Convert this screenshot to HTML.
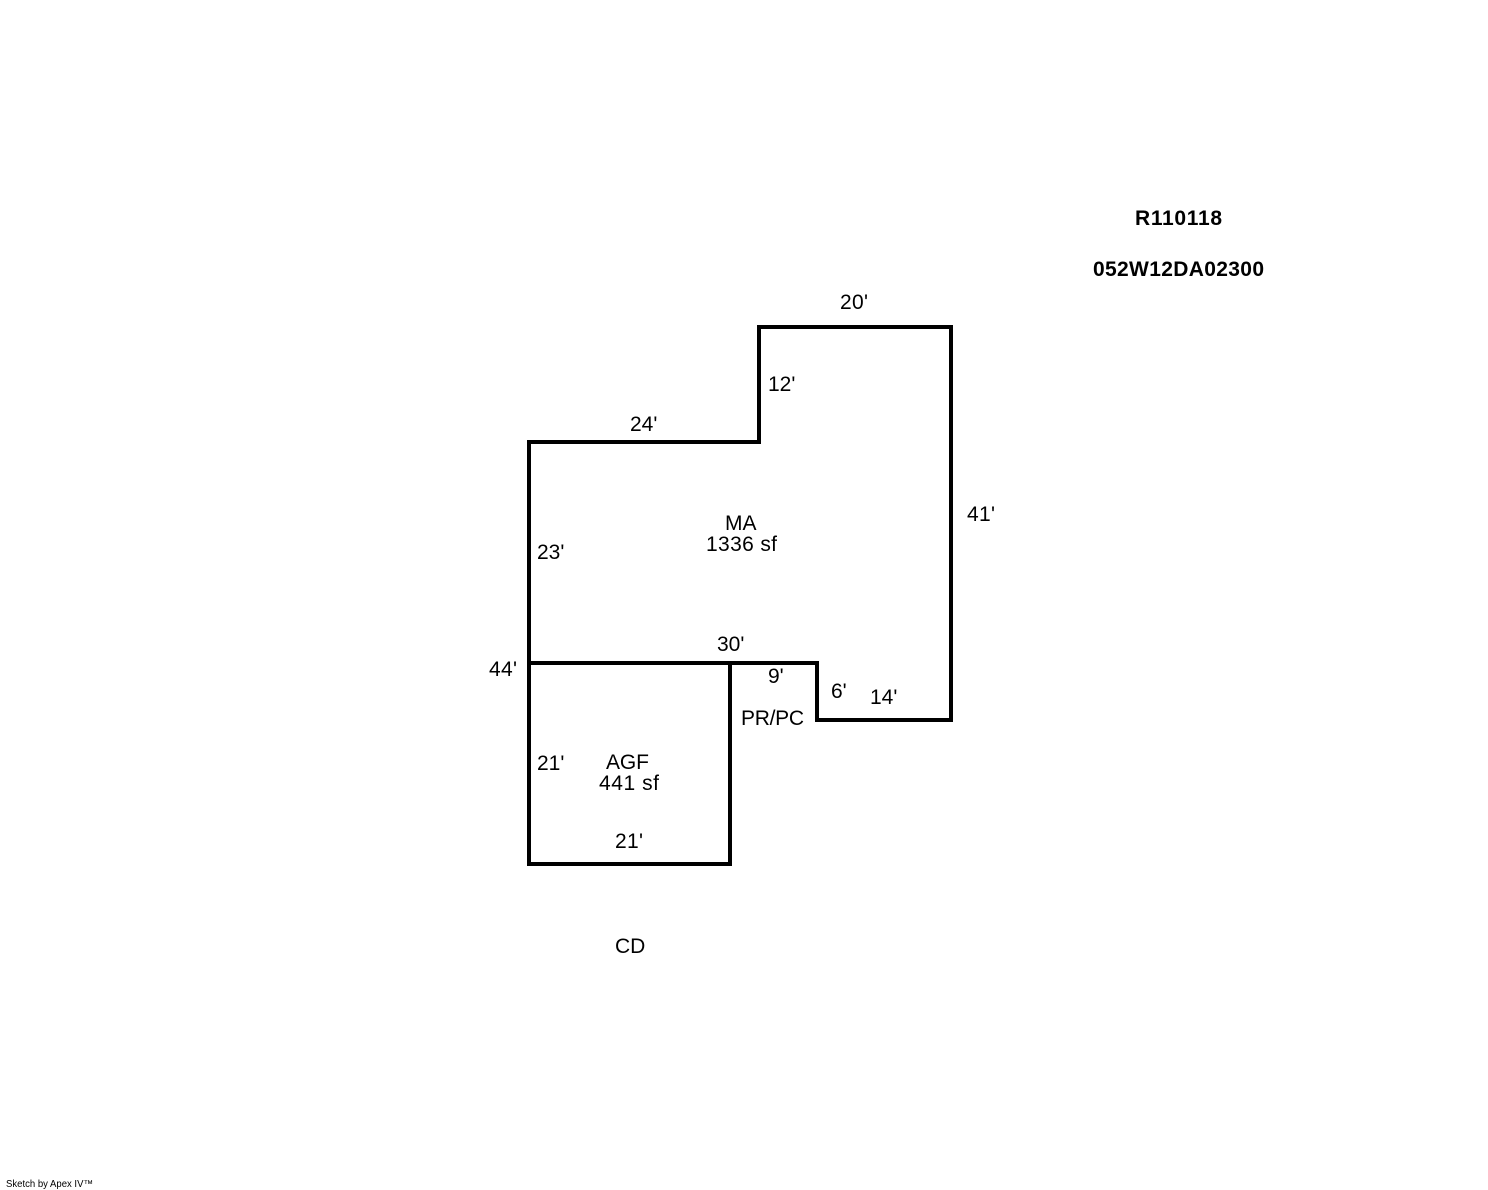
<!DOCTYPE html>
<html>
<head>
<meta charset="utf-8">
<style>
html,body{margin:0;padding:0;background:#fff;}
svg{display:block;}
text{font-family:"Liberation Sans",Arial,sans-serif;font-size:21px;fill:#000;}
.b{font-weight:bold;}
.s{font-size:10px;}
</style>
</head>
<body>
<svg width="1488" height="1190" viewBox="0 0 1488 1190" xmlns="http://www.w3.org/2000/svg">
<rect width="1488" height="1190" fill="#fff"/>
<g fill="none" stroke="#000" stroke-width="4" stroke-linejoin="miter" stroke-linecap="square">
<path d="M529 442H759V327H951V720H817V663H529Z"/>
<path d="M529 442V864H730V663"/>
</g>
<text class="b" x="1135" y="225" textLength="87" lengthAdjust="spacing">R110118</text>
<text class="b" x="1093" y="276" textLength="171" lengthAdjust="spacing">052W12DA02300</text>
<text x="840" y="309" textLength="28" lengthAdjust="spacing">20'</text>
<text x="768" y="391">12'</text>
<text x="630" y="431">24'</text>
<text x="967" y="521" textLength="28" lengthAdjust="spacing">41'</text>
<text x="725" y="530">MA</text>
<text x="706" y="551" textLength="71" lengthAdjust="spacing">1336 sf</text>
<text x="537" y="559">23'</text>
<text x="717" y="651">30'</text>
<text x="489" y="676" textLength="28" lengthAdjust="spacing">44'</text>
<text x="768" y="683">9'</text>
<text x="831" y="698">6'</text>
<text x="870" y="704">14'</text>
<text x="741" y="725" textLength="63" lengthAdjust="spacing">PR/PC</text>
<text x="537" y="770">21'</text>
<text x="606" y="769" textLength="43" lengthAdjust="spacing">AGF</text>
<text x="599" y="790" textLength="60" lengthAdjust="spacing">441 sf</text>
<text x="615" y="848" textLength="28" lengthAdjust="spacing">21'</text>
<text x="615" y="953">CD</text>
<text class="s" x="6" y="1187" textLength="87" lengthAdjust="spacingAndGlyphs">Sketch by Apex IV™</text>
</svg>
</body>
</html>
